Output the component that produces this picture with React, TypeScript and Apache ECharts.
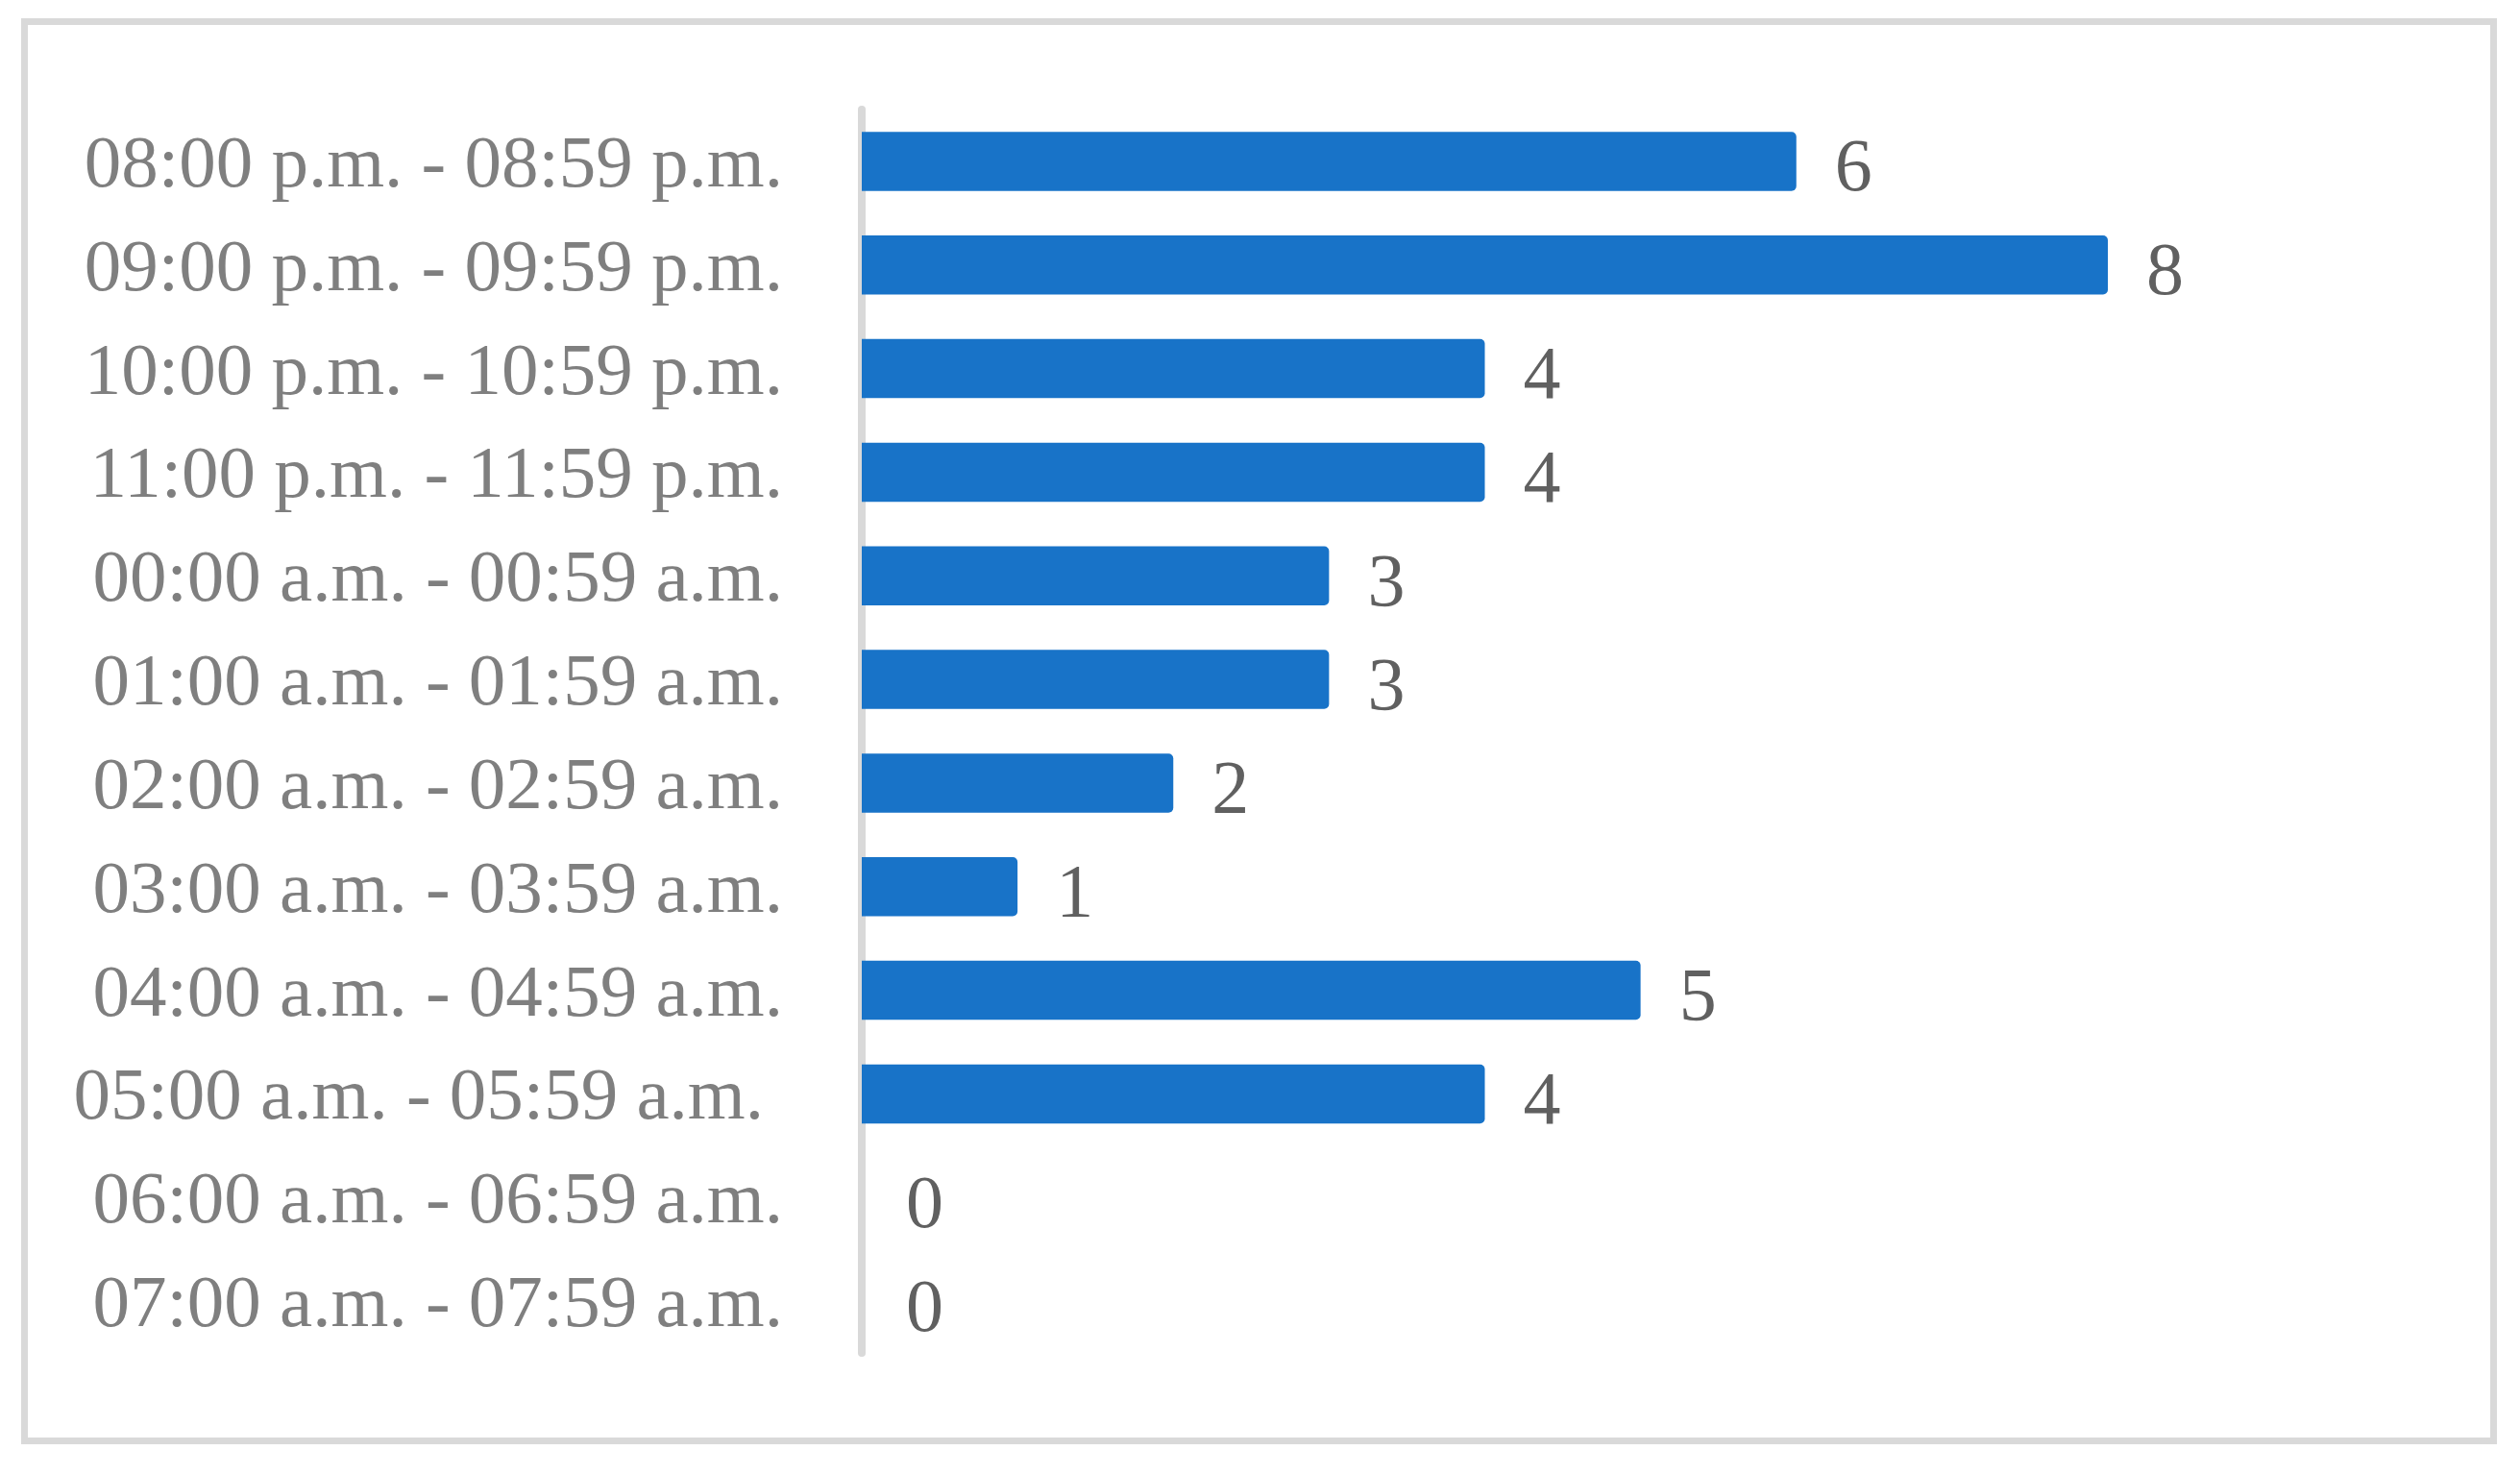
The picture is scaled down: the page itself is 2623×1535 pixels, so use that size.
import React, { useEffect, useRef } from "react";
import * as echarts from "echarts";

const categories = [
  "08:00 p.m. - 08:59 p.m.",
  "09:00 p.m. - 09:59 p.m.",
  "10:00 p.m. - 10:59 p.m.",
  "11:00 p.m. - 11:59 p.m.",
  "00:00 a.m. - 00:59 a.m.",
  "01:00 a.m. - 01:59 a.m.",
  "02:00 a.m. - 02:59 a.m.",
  "03:00 a.m. - 03:59 a.m.",
  "04:00 a.m. - 04:59 a.m.",
  "05:00 a.m. - 05:59 a.m. ",
  "06:00 a.m. - 06:59 a.m.",
  "07:00 a.m. - 07:59 a.m.",
];
const values = [6, 8, 4, 4, 3, 3, 2, 1, 5, 4, 0, 0];
const xMin = 0;
const xMax = 8;

const FONT = "'Liberation Serif', 'DejaVu Serif', serif";

export default function App() {
  const ref = useRef<HTMLDivElement>(null);
  useEffect(() => {
    if (!ref.current) return;
    const chart = echarts.init(ref.current, null, { renderer: "svg" });
    chart.setOption({
      animation: false,
      backgroundColor: "#ffffff",
      graphic: [
        {
          type: "rect",
          shape: { x: 25.5, y: 22.5, width: 2570, height: 1477 },
          style: { fill: "none", stroke: "#d9d9d9", lineWidth: 7 },
          silent: true,
          z: 0,
        },
      ],
      grid: { left: 897, top: 114, width: 1297, height: 1294, containLabel: false },
      xAxis: {
        type: "value",
        min: xMin,
        max: xMax,
        show: false,
        splitLine: { show: false },
      },
      yAxis: {
        type: "category",
        data: categories,
        inverse: true,
        offset: 3,
        axisLine: { show: true, lineStyle: { color: "#d9d9d9", width: 8 } },
        axisTick: { show: false },
        splitLine: { show: false },
        axisLabel: {
          margin: 79,
          fontFamily: FONT,
          fontSize: 77,
          color: "#7f7f7f",
          formatter: (v: string) =>
            v.endsWith(" ") ? "{p|" + v.trim() + "}" : v,
          rich: {
            p: {
              fontFamily: FONT,
              fontSize: 77,
              color: "#7f7f7f",
              padding: [0, 20, 0, 0],
            },
          },
        },
      },
      series: [
        {
          type: "bar",
          data: values.map((v) =>
            v === 0 ? { value: v, label: { distance: 46 } } : v
          ),
          barCategoryGap: "43%",
          itemStyle: { color: "#1873c8", borderRadius: [0, 5, 5, 0] },
          label: {
            show: true,
            position: "right",
            distance: 40,
            fontFamily: FONT,
            fontSize: 78,
            color: "#606060",
            offset: [0, 4],
          },
        },
      ],
    });
    return () => chart.dispose();
  }, []);
  return (
    <div
      ref={ref}
      style={{ position: "fixed", left: 0, top: 0, width: 2623, height: 1535 }}
    />
  );
}
